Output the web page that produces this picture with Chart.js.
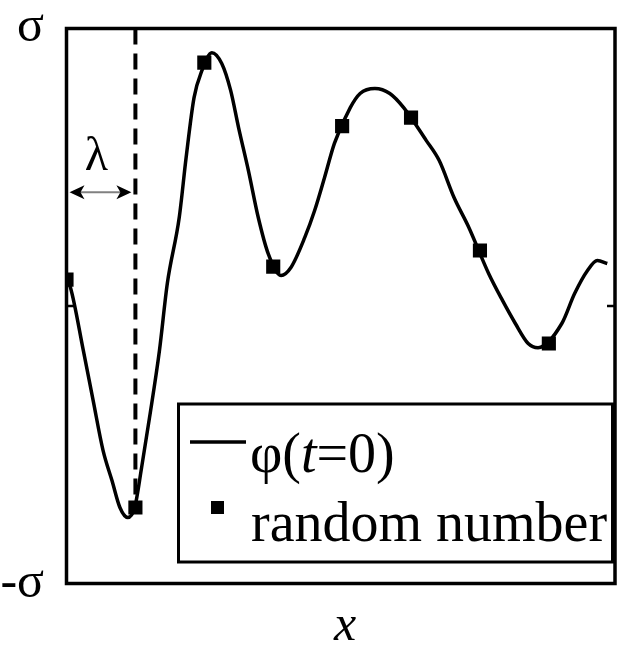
<!DOCTYPE html>
<html lang="en">
<head>
    <meta charset="UTF-8">
    <title>Random field at t=0</title>
    <script src="https://cdn.jsdelivr.net/npm/chart.js@4.4.1/dist/chart.umd.min.js"></script>
    <style>
        * {
            margin: 0;
            padding: 0;
            box-sizing: border-box;
        }

        html, body {
            background: white;
            overflow: hidden;
        }

        canvas {
            display: block;
        }
    </style>
</head>
<body>
    <canvas id="fieldChart" width="625" height="649"></canvas>

    <script>
        // Smooth field phi(t=0), in units of sigma
        const curveX = [0, 0.057, 0.244, 0.387, 0.531, 0.660, 0.775, 0.889, 0.990, 1.090,
            1.205, 1.349, 1.463, 1.636, 1.736, 1.851, 1.966, 2.109, 2.253, 2.382,
            2.497, 2.640, 2.783, 2.927, 3.113, 3.257, 3.458, 3.601, 3.745, 3.888,
            4.118, 4.261, 4.476, 4.692, 4.893, 5.222, 5.409, 5.624, 5.839, 6.126,
            6.327, 6.514, 6.700, 6.843, 7.188, 7.374, 7.561, 7.704, 7.848];
        const curveY = [0.095, 0.067, -0.160, -0.341, -0.521, -0.629, -0.726, -0.762, -0.726, -0.582,
            -0.402, -0.160, 0.081, 0.319, 0.535, 0.751, 0.849, 0.913, 0.874, 0.777,
            0.643, 0.488, 0.319, 0.189, 0.110, 0.139, 0.247, 0.344, 0.463, 0.586,
            0.715, 0.766, 0.784, 0.766, 0.715, 0.596, 0.524, 0.391, 0.283, 0.117,
            0.020, -0.063, -0.135, -0.150, -0.063, 0.045, 0.128, 0.164, 0.153];

        // Random numbers drawn on the unit grid
        const sampleX = [0, 1, 2, 3, 4, 5, 6, 7];
        const sampleY = [0.095, -0.726, 0.877, 0.142, 0.648, 0.679, 0.200, -0.135];

        // Correlation length marker (dashed line at x = 1)
        const lagX = 1;
        const lagTop = 1;
        const lagBottom = -0.726;
        const arrowY = 0.41;

        const xMax = 7.96;
        const yTicks = [-1, 0, 1];
        const yLabels = ['-σ', '', 'σ'];

        const serif = '"Liberation Serif", "Times New Roman", serif';

        const toPoints = (xs, ys) => xs.map((x, i) => ({ x: x, y: ys[i] }));

        // Frame, tick marks, axis labels, arrow and legend
        const decorations = {
            id: 'decorations',
            afterDatasetsDraw(chart) {
                const ctx = chart.ctx;
                const area = chart.chartArea;
                const xs = chart.scales.x;
                const ys = chart.scales.y;

                ctx.save();
                ctx.strokeStyle = 'black';
                ctx.lineWidth = 3.5;
                ctx.strokeRect(area.left, area.top, area.right - area.left, area.bottom - area.top);

                // zero ticks on both sides, pointing inwards
                const y0 = ys.getPixelForValue(0);
                ctx.lineWidth = 2.5;
                ctx.beginPath();
                ctx.moveTo(area.left, y0);
                ctx.lineTo(area.left + 8, y0);
                ctx.moveTo(area.right, y0);
                ctx.lineTo(area.right - 8, y0);
                ctx.stroke();

                // y labels
                ctx.fillStyle = 'black';
                ctx.font = '50px ' + serif;
                ctx.textAlign = 'right';
                ctx.textBaseline = 'alphabetic';
                yTicks.forEach((v, i) => {
                    if (!yLabels[i]) return;
                    const py = ys.getPixelForValue(v);
                    ctx.fillText(yLabels[i], 44, v > 0 ? py + 12 : py + 13);
                });

                // x label
                ctx.font = 'italic 50px ' + serif;
                ctx.textAlign = 'center';
                ctx.fillText('x', 345, 640);

                // double arrow between x = 0 and the dashed line
                const ax0 = xs.getPixelForValue(0) + 3;
                const ax1 = xs.getPixelForValue(lagX) - 4;
                const ay = ys.getPixelForValue(arrowY);
                ctx.strokeStyle = '#808080';
                ctx.lineWidth = 2;
                ctx.beginPath();
                ctx.moveTo(ax0 + 8, ay);
                ctx.lineTo(ax1 - 8, ay);
                ctx.stroke();
                ctx.fillStyle = 'black';
                [[ax0, 1], [ax1, -1]].forEach(([tip, dir]) => {
                    ctx.beginPath();
                    ctx.moveTo(tip, ay);
                    ctx.lineTo(tip + dir * 15, ay - 7);
                    ctx.lineTo(tip + dir * 11, ay);
                    ctx.lineTo(tip + dir * 15, ay + 7);
                    ctx.closePath();
                    ctx.fill();
                });
                ctx.font = '48px ' + serif;
                ctx.textAlign = 'center';
                ctx.fillText('λ', (ax0 + ax1) / 2 - 4, ay - 22);

                // legend box
                const lx = 178.5, ly = 404, lw = 434, lh = 158;
                ctx.fillStyle = 'white';
                ctx.fillRect(lx, ly, lw, lh);
                ctx.strokeStyle = 'black';
                ctx.lineWidth = 3;
                ctx.strokeRect(lx, ly, lw, lh);

                ctx.lineWidth = 3.5;
                ctx.beginPath();
                ctx.moveTo(190, 442);
                ctx.lineTo(246, 442);
                ctx.stroke();

                ctx.fillStyle = 'black';
                ctx.textAlign = 'left';
                let tx = 250;
                const parts = [['φ(', ''], ['t', 'italic '], ['=0)', '']];
                parts.forEach(([s, style]) => {
                    ctx.font = style + '56px ' + serif;
                    ctx.fillText(s, tx, 472);
                    tx += ctx.measureText(s).width;
                });

                ctx.fillRect(211, 501, 13, 13);
                ctx.font = '56px ' + serif;
                ctx.fillText('random number', 251, 541);
                ctx.restore();
            }
        };

        new Chart(document.getElementById('fieldChart'), {
            type: 'scatter',
            data: {
                datasets: [{
                    label: 'φ(t=0)',
                    data: toPoints(curveX, curveY),
                    showLine: true,
                    borderColor: 'black',
                    borderWidth: 3.5,
                    pointRadius: 0,
                    cubicInterpolationMode: 'monotone',
                    order: 2
                }, {
                    label: 'correlation length',
                    data: [{ x: lagX, y: lagTop }, { x: lagX, y: lagBottom }],
                    showLine: true,
                    borderColor: 'black',
                    borderWidth: 4,
                    borderDash: [16, 9],
                    pointRadius: 0,
                    order: 3
                }, {
                    label: 'random number',
                    data: toPoints(sampleX, sampleY),
                    showLine: false,
                    pointStyle: 'rect',
                    pointRadius: 10,
                    backgroundColor: 'black',
                    borderColor: 'black',
                    borderWidth: 0,
                    order: 1
                }]
            },
            options: {
                responsive: false,
                animation: false,
                layout: {
                    padding: { left: 66.5, right: 4, top: 28.5, bottom: 65.5 }
                },
                plugins: {
                    legend: { display: false },
                    tooltip: { enabled: false }
                },
                scales: {
                    x: { type: 'linear', min: 0, max: xMax, display: false },
                    y: { type: 'linear', min: -1, max: 1, display: false }
                }
            },
            plugins: [decorations]
        });
    </script>
</body>
</html>
